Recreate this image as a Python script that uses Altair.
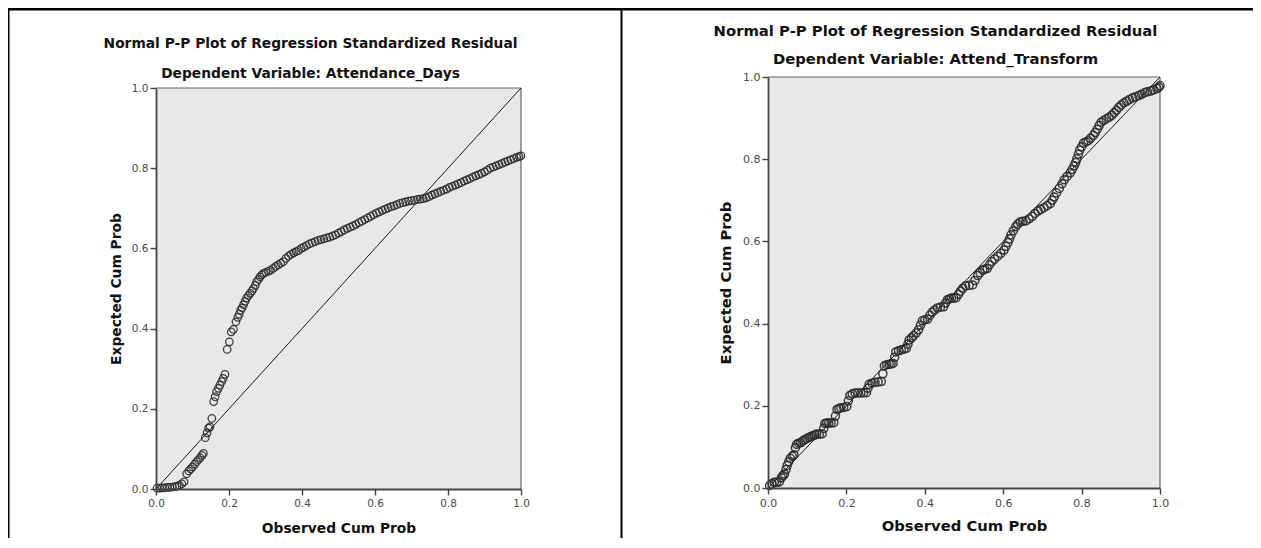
import altair as alt
import pandas as pd

# ---------------- data ----------------
left_obs = [0.003, 0.010, 0.017, 0.024, 0.031, 0.038, 0.045, 0.052, 0.058, 0.064,
            0.071, 0.077, 0.084, 0.090, 0.095, 0.100, 0.106, 0.111, 0.116, 0.121,
            0.126, 0.130, 0.135, 0.140, 0.144, 0.148, 0.153, 0.158, 0.162, 0.166,
            0.171, 0.175, 0.180, 0.184, 0.189, 0.195, 0.201, 0.206, 0.212, 0.219,
            0.224, 0.228, 0.232, 0.236, 0.240, 0.244, 0.248, 0.253, 0.258, 0.263,
            0.267, 0.272, 0.276, 0.281, 0.285, 0.290, 0.295, 0.301, 0.308, 0.314,
            0.321, 0.328, 0.335, 0.342, 0.349, 0.356, 0.363, 0.370, 0.377, 0.384,
            0.391, 0.398, 0.405, 0.412, 0.420, 0.428, 0.436, 0.444, 0.452, 0.460,
            0.468, 0.476, 0.484, 0.492, 0.500, 0.508, 0.516, 0.524, 0.532, 0.540,
            0.548, 0.556, 0.564, 0.572, 0.580, 0.588, 0.596, 0.604, 0.612, 0.620,
            0.628, 0.636, 0.644, 0.652, 0.660, 0.668, 0.676, 0.684, 0.692, 0.700,
            0.708, 0.716, 0.724, 0.732, 0.740, 0.748, 0.756, 0.764, 0.772, 0.780,
            0.788, 0.796, 0.804, 0.812, 0.820, 0.828, 0.836, 0.844, 0.852, 0.860,
            0.868, 0.876, 0.884, 0.892, 0.900, 0.908, 0.916, 0.924, 0.932, 0.940,
            0.948, 0.956, 0.964, 0.972, 0.980, 0.988, 0.995, 1.000]
left_exp = [0.002, 0.002, 0.003, 0.003, 0.004, 0.004, 0.005, 0.006, 0.007, 0.009,
            0.013, 0.018, 0.038, 0.045, 0.050, 0.055, 0.062, 0.068, 0.073, 0.078,
            0.084, 0.089, 0.128, 0.140, 0.152, 0.155, 0.176, 0.218, 0.230, 0.243,
            0.251, 0.259, 0.268, 0.276, 0.286, 0.348, 0.367, 0.392, 0.398, 0.417,
            0.428, 0.436, 0.446, 0.452, 0.460, 0.468, 0.476, 0.482, 0.488, 0.494,
            0.500, 0.508, 0.517, 0.523, 0.529, 0.534, 0.538, 0.540, 0.543, 0.546,
            0.550, 0.555, 0.559, 0.563, 0.567, 0.575, 0.581, 0.585, 0.589, 0.592,
            0.595, 0.600, 0.603, 0.607, 0.611, 0.614, 0.617, 0.620, 0.622, 0.624,
            0.626, 0.628, 0.631, 0.634, 0.638, 0.642, 0.646, 0.650, 0.653, 0.656,
            0.660, 0.664, 0.668, 0.672, 0.676, 0.680, 0.684, 0.688, 0.691, 0.695,
            0.698, 0.701, 0.704, 0.706, 0.709, 0.712, 0.714, 0.716, 0.718, 0.719,
            0.720, 0.722, 0.723, 0.724, 0.726, 0.729, 0.733, 0.736, 0.739, 0.742,
            0.745, 0.748, 0.752, 0.755, 0.758, 0.761, 0.764, 0.768, 0.771, 0.774,
            0.778, 0.781, 0.784, 0.787, 0.791, 0.795, 0.800, 0.803, 0.806, 0.809,
            0.812, 0.815, 0.818, 0.821, 0.824, 0.827, 0.829, 0.831]

right_obs = [0.004, 0.010, 0.016, 0.022, 0.029, 0.034, 0.038, 0.042, 0.046, 0.049,
             0.053, 0.057, 0.062, 0.066, 0.070, 0.073, 0.078, 0.083, 0.088, 0.093,
             0.099, 0.104, 0.109, 0.114, 0.119, 0.124, 0.131, 0.138, 0.142, 0.145,
             0.150, 0.155, 0.161, 0.168, 0.172, 0.176, 0.181, 0.186, 0.193, 0.201,
             0.205, 0.209, 0.215, 0.222, 0.229, 0.237, 0.244, 0.251, 0.255, 0.258,
             0.265, 0.273, 0.281, 0.289, 0.293, 0.297, 0.303, 0.309, 0.314, 0.319,
             0.323, 0.326, 0.333, 0.340, 0.347, 0.353, 0.357, 0.360, 0.366, 0.371,
             0.378, 0.384, 0.389, 0.394, 0.400, 0.407, 0.413, 0.419, 0.425, 0.432,
             0.440, 0.448, 0.453, 0.458, 0.463, 0.468, 0.474, 0.480, 0.486, 0.491,
             0.497, 0.504, 0.513, 0.522, 0.528, 0.535, 0.541, 0.548, 0.553, 0.559,
             0.565, 0.571, 0.578, 0.586, 0.594, 0.602, 0.607, 0.612, 0.616, 0.620,
             0.626, 0.632, 0.637, 0.643, 0.650, 0.658, 0.666, 0.674, 0.681, 0.689,
             0.696, 0.704, 0.712, 0.720, 0.725, 0.730, 0.736, 0.743, 0.750, 0.756,
             0.763, 0.771, 0.776, 0.781, 0.785, 0.788, 0.792, 0.795, 0.800, 0.805,
             0.811, 0.817, 0.823, 0.830, 0.835, 0.840, 0.845, 0.850, 0.856, 0.863,
             0.870, 0.877, 0.883, 0.889, 0.895, 0.901, 0.908, 0.915, 0.922, 0.930,
             0.938, 0.946, 0.953, 0.961, 0.968, 0.976, 0.984, 0.992, 0.997, 1.000]
right_exp = [0.006, 0.010, 0.014, 0.014, 0.015, 0.025, 0.030, 0.034, 0.045, 0.055,
             0.064, 0.072, 0.077, 0.081, 0.098, 0.106, 0.109, 0.110, 0.114, 0.117,
             0.120, 0.123, 0.125, 0.127, 0.129, 0.131, 0.131, 0.132, 0.145, 0.157,
             0.158, 0.158, 0.158, 0.159, 0.175, 0.191, 0.193, 0.195, 0.196, 0.198,
             0.212, 0.225, 0.229, 0.231, 0.231, 0.231, 0.232, 0.232, 0.243, 0.252,
             0.255, 0.257, 0.258, 0.259, 0.278, 0.297, 0.300, 0.301, 0.302, 0.303,
             0.318, 0.331, 0.334, 0.336, 0.338, 0.340, 0.350, 0.360, 0.365, 0.370,
             0.377, 0.385, 0.396, 0.407, 0.409, 0.411, 0.420, 0.428, 0.433, 0.438,
             0.440, 0.441, 0.450, 0.458, 0.460, 0.462, 0.462, 0.463, 0.471, 0.479,
             0.486, 0.492, 0.493, 0.494, 0.505, 0.517, 0.524, 0.530, 0.532, 0.534,
             0.543, 0.551, 0.557, 0.564, 0.571, 0.579, 0.588, 0.597, 0.606, 0.616,
             0.626, 0.636, 0.642, 0.647, 0.649, 0.650, 0.655, 0.661, 0.668, 0.674,
             0.678, 0.682, 0.687, 0.692, 0.700, 0.708, 0.718, 0.729, 0.740, 0.750,
             0.758, 0.767, 0.775, 0.784, 0.792, 0.801, 0.812, 0.822, 0.830, 0.839,
             0.842, 0.845, 0.851, 0.858, 0.865, 0.873, 0.882, 0.890, 0.894, 0.898,
             0.902, 0.907, 0.913, 0.919, 0.926, 0.932, 0.937, 0.941, 0.945, 0.949,
             0.952, 0.955, 0.958, 0.962, 0.964, 0.966, 0.969, 0.972, 0.975, 0.979]

tick_vals = [0.0, 0.2, 0.4, 0.6, 0.8, 1.0]
main_title = "Normal P-P Plot of Regression Standardized Residual"
left_sub = "Dependent Variable: Attendance_Days"
right_sub = "Dependent Variable: Attend_Transform"
x_title = "Observed Cum Prob"
y_title = "Expected Cum Prob"

# ---------------- layout ----------------
W, H = 1245, 530
FONT = "DejaVu Sans"


def panel(obs, exp, xr, yr, fs, lab_fs, ytx, xty, psize, pwidth):
    pts = pd.DataFrame({"obs": obs, "exp": exp})
    box = pd.DataFrame({"x0": [0.0], "x1": [1.0], "y0": [0.0], "y1": [1.0]})
    sx = alt.Scale(domain=[0, 1], range=xr, nice=False, zero=False)
    sy = alt.Scale(domain=[0, 1], range=yr, nice=False, zero=False)
    common = dict(values=tick_vals, format=".1f", grid=False, zindex=1,
                  domainColor="#444", domainWidth=1.8, tickColor="#444",
                  tickSize=6, tickWidth=1.4, labelFont=FONT, labelFontSize=lab_fs,
                  labelColor="#4a4a4a", titleFont=FONT, titleFontWeight="bold",
                  titleFontSize=fs, titleColor="#111", labelOverlap=False)
    ax = alt.Axis(orient="bottom", title=x_title, offset=yr[0] - H,
                  labelFlush=False, labelPadding=3, titleY=xty,
                  titleBaseline="middle", **common)
    ay = alt.Axis(orient="left", title=y_title, offset=-xr[0], labelPadding=2,
                  titleX=ytx, titleBaseline="middle", titleAlign="center",
                  titleAngle=-90, **common)

    def X(f):
        return alt.X(f, type="quantitative", scale=sx, axis=ax)

    def Y(f):
        return alt.Y(f, type="quantitative", scale=sy, axis=ay)

    base = alt.Chart(box)
    bg = base.mark_rect(fill="#e8e8e8").encode(x=X("x0"), x2="x1", y=Y("y0"), y2="y1")
    top = base.mark_rule(color="#666", strokeWidth=1.2).encode(x=X("x0"), x2="x1", y=Y("y1"))
    rgt = base.mark_rule(color="#666", strokeWidth=1.2).encode(x=X("x1"), y=Y("y0"), y2="y1")
    diag = base.mark_rule(color="#1a1a1a", strokeWidth=1).encode(
        x=X("x0"), y=Y("y0"), x2="x1", y2="y1")
    points = alt.Chart(pts).mark_point(
        shape="circle", filled=False, size=psize, color="#2b2b2b",
        strokeWidth=pwidth, opacity=0.9).encode(x=X("obs"), y=Y("exp"))
    return alt.layer(bg, top, rgt, diag, points)


left = panel(left_obs, left_exp, [148, 513], [481, 80], 13.8, 10.5, -39.5, 39, 56, 1.25)
right = panel(right_obs, right_exp, [760, 1152], [480, 69], 14.8, 11, -42, 38, 66, 1.5)


def text(label, x, y, fs):
    return alt.Chart(pd.DataFrame({"t": [label]})).mark_text(
        font=FONT, fontWeight="bold", fontSize=fs, color="#111",
        align="center", baseline="middle").encode(
        text="t:N", x=alt.value(x), y=alt.value(y))


titles = [
    text(main_title, 302.5, 36, 13.8),
    text(left_sub, 302.5, 65.5, 13.8),
    text(main_title, 927.5, 24, 14.8),
    text(right_sub, 927.5, 52, 14.8),
]

one = pd.DataFrame({"a": [0]})
frame = [
    alt.Chart(one).mark_rule(color="black", strokeWidth=3).encode(
        x=alt.value(0), x2=alt.value(W), y=alt.value(1)),
    alt.Chart(one).mark_rule(color="black", strokeWidth=2).encode(
        x=alt.value(0.5), y=alt.value(0), y2=alt.value(H)),
    alt.Chart(one).mark_rule(color="black", strokeWidth=2).encode(
        x=alt.value(613.5), y=alt.value(0), y2=alt.value(H)),
]

chart = alt.layer(left, right, *titles, *frame).resolve_scale(
    x="independent", y="independent"
).properties(
    width=W, height=H, padding=0,
    autosize=alt.AutoSizeParams(type="none"),
    background="white",
).configure_view(stroke=None)

chart.save("out.html", embed_options={"renderer": "svg", "actions": False})
